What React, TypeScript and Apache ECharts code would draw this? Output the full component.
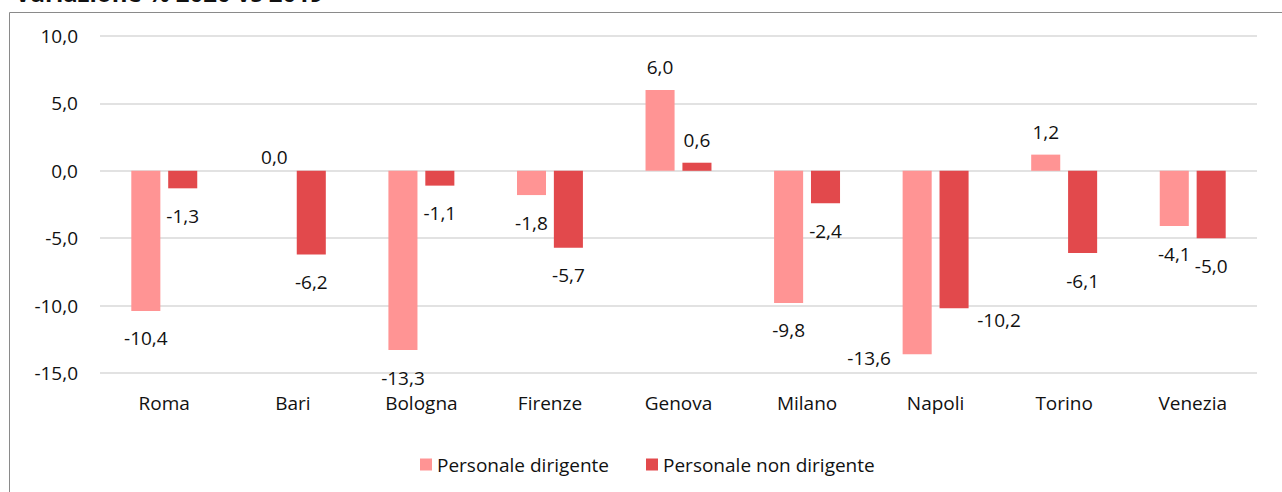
import React, { useEffect, useRef } from "react";
import * as echarts from "echarts";

const TITLE = "Variazione % 2020 vs 2019";
const categories = ["Roma", "Bari", "Bologna", "Firenze", "Genova", "Milano", "Napoli", "Torino", "Venezia"];
const seriesNames = ["Personale dirigente", "Personale non dirigente"];
const dirigente = [-10.4, 0.0, -13.3, -1.8, 6.0, -9.8, -13.6, 1.2, -4.1];
const nonDirigente = [-1.3, -6.2, -1.1, -5.7, 0.6, -2.4, -10.2, -6.1, -5.0];
const colors = ["#FF9494", "#E2494C"];

// manual label nudges (as moved in the original): [seriesIndex, categoryIndex, dx, dy]
const labelNudges: [number, number, number, number][] = [
  [0, 1, 0, 9],
  [0, 6, -48, -24],
  [1, 6, 45, -16],
];

const fmt = (v: number) => v.toFixed(1).replace(".", ",");
const FONT = "'Open Sans', 'Noto Sans', sans-serif";
const FS = 19;

function buildData(values: number[], sIdx: number) {
  return values.map((v, i) => {
    const nudge = labelNudges.find((n) => n[0] === sIdx && n[1] === i);
    const neg = v < 0;
    return {
      value: v,
      label: {
        position: neg ? "bottom" : "top",
        distance: neg ? 18 : 13.5,
        offset: nudge ? [nudge[2], nudge[3]] : [0, 0],
      },
    };
  });
}

export default function App() {
  const ref = useRef<HTMLDivElement>(null);
  useEffect(() => {
    if (!ref.current) return;
    const chart = echarts.init(ref.current, undefined, { renderer: "svg" });
    const labelCommon = {
      show: true,
      formatter: (p: any) => fmt(p.value),
      color: "#111",
      fontSize: FS,
      fontFamily: FONT,
    };
    chart.setOption({
      animation: false,
      textStyle: { fontFamily: FONT },
      graphic: [
        {
          type: "rect",
          shape: { x: 9.5, y: 12.5, width: 1400, height: 700 },
          style: { fill: "none", stroke: "#8a8a8a", lineWidth: 1 },
          silent: true,
        },
        {
          type: "text",
          left: 15,
          top: -20,
          style: {
            text: TITLE,
            font: "bold 24px " + FONT,
            fill: "#111",
          },
        },
      ],
      grid: { left: 100, right: 25, top: 36, bottom: 119 },
      legend: {
        data: seriesNames,
        left: 420,
        top: 455,
        padding: 0,
        icon: "rect",
        itemWidth: 12,
        itemHeight: 12,
        itemGap: 37,
        textStyle: { fontSize: FS, color: "#111", fontFamily: FONT },
      },
      xAxis: {
        type: "category",
        data: categories,
        axisLine: { show: false, onZero: false },
        axisTick: { show: false },
        axisLabel: { color: "#111", fontSize: FS, margin: 20, fontFamily: FONT },
      },
      yAxis: {
        type: "value",
        min: -15,
        max: 10,
        interval: 5,
        axisLine: { show: false },
        axisTick: { show: false },
        splitLine: { lineStyle: { color: "#d9d9d9", width: 1.5 } },
        axisLabel: {
          color: "#111",
          fontSize: FS,
          margin: 22,
          fontFamily: FONT,
          formatter: (v: number) => fmt(v),
        },
      },
      series: [
        {
          name: seriesNames[0],
          type: "bar",
          data: buildData(dirigente, 0),
          itemStyle: { color: colors[0] },
          barWidth: "22.6%",
          barGap: "27%",
          label: labelCommon,
        },
        {
          name: seriesNames[1],
          type: "bar",
          data: buildData(nonDirigente, 1),
          itemStyle: { color: colors[1] },
          barWidth: "22.6%",
          barGap: "27%",
          label: labelCommon,
        },
      ],
    });
    return () => chart.dispose();
  }, []);
  return (
    <div
      ref={ref}
      style={{ position: "absolute", left: 0, top: 0, width: 1282, height: 492 }}
    />
  );
}
